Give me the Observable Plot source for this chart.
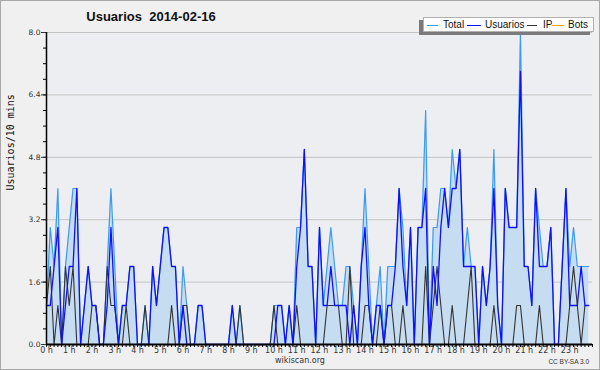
<!DOCTYPE html>
<html>
<head>
<meta charset="utf-8">
<script src="https://cdn.jsdelivr.net/npm/d3@7"></script>
<script src="https://cdn.jsdelivr.net/npm/@observablehq/plot@0.6"></script>
<style>
html,body{margin:0;padding:0;background:#f0f0f0;}
#wrap{position:relative;width:600px;height:370px;background:#f0f0f0;overflow:hidden;}
#wrap svg{position:absolute;left:0;top:0;}
#border{position:absolute;left:0;top:0;width:600px;height:370px;box-sizing:border-box;border:1px solid #a8a8a8;pointer-events:none;}
#title{position:absolute;left:51px;top:10px;width:200px;text-align:center;font:bold 13px "Liberation Sans",Arial,sans-serif;line-height:13px;white-space:pre;color:#111;}
#legend{position:absolute;left:423px;top:17px;width:169px;height:13px;background:#fff;border:1px solid #b0b0b0;box-shadow:-4px 3px 0 #7a7a7a;}
.lg{position:absolute;top:2px;font:10px "Liberation Sans",Arial,sans-serif;line-height:10px;color:#111;white-space:nowrap;}
.ll{position:absolute;top:7px;height:1px;}
#foot{position:absolute;left:200px;top:356px;width:200px;text-align:center;font:8px "DejaVu Sans",sans-serif;line-height:9px;color:#333;}
#cc{position:absolute;right:11px;top:358px;font:6.5px "Liberation Sans",Arial,sans-serif;line-height:7px;color:#333;}
</style>
</head>
<body>
<div id="wrap"></div>
<script>
// ---- data (10-minute slots, 2014-02-16) ----
const total = [
  1,3,2,4,0,2,3,4,4,0,
  1,2,1,1,0,0,2,4,2,0,
  1,1,2,2,0,0,1,0,2,1,
  2,3,3,2,2,0,2,1,0,0,
  1,1,0,0,0,0,0,0,0,1,
  0,1,0,0,0,0,0,0,0,0,
  1,1,1,0,1,0,3,3,5,2,
  2,0,3,1,2,3,2,1,1,2,
  2,1,0,2,4,2,0,1,2,0,
  2,2,2,4,3,1,3,0,3,3,
  6,0,3,3,4,4,3,5,4,5,
  2,3,2,2,0,2,1,2,5,1,
  0,4,3,3,3,8,2,2,1,4,
  3,2,2,3,0,0,2,4,2,3,
  2,2,2,2
];
const usuarios = [
  1,1,2,3,0,1,2,2,4,0,
  1,2,1,1,0,0,1,3,1,0,
  1,1,2,2,0,0,0,0,2,1,
  2,3,3,2,2,0,1,0,0,0,
  1,1,0,0,0,0,0,0,0,1,
  0,0,0,0,0,0,0,0,0,0,
  0,1,1,0,1,0,2,3,5,2,
  2,0,3,1,1,2,1,1,1,1,
  0,1,0,2,3,1,0,1,1,0,
  1,1,2,4,2,1,3,0,3,3,
  4,0,2,1,3,4,3,4,4,5,
  2,2,2,2,0,2,1,2,4,1,
  0,4,3,3,3,7,2,2,1,4,
  2,2,2,3,0,0,2,4,1,1,
  1,2,1,1
];
const ip = [
  1,2,0,1,0,2,1,2,0,0,
  0,0,1,1,0,0,2,1,1,0,
  0,1,0,0,0,0,1,0,0,0,
  0,0,0,1,0,0,1,1,0,0,
  0,0,0,0,0,0,0,0,0,0,
  0,1,0,0,0,0,0,0,0,0,
  1,0,0,0,0,0,1,0,0,0,
  0,0,0,0,1,1,1,1,0,0,
  2,0,0,0,1,1,0,0,1,0,
  1,1,0,0,1,0,0,0,0,0,
  2,0,1,2,1,0,0,1,0,0,
  0,1,2,0,0,0,0,0,1,0,
  0,0,0,0,1,1,0,0,0,0,
  1,0,0,0,0,0,0,0,1,2,
  1,0,1,1
];
const bots = [
  0,0,0,0,0,0,0,0,0,0, 0,0,0,0,0,0,0,0,0,0,
  0,0,0,0,0,0,0,0,0,0, 0,0,0,0,0,0,0,0,0,0,
  0,0,0,0,0,0,0,0,0,0, 0,0,0,0,0,0,0,0,0,0,
  0,0,0,0,0,0,0,0,0,0, 0,0,0,0,0,0,0,0,0,0,
  0,0,0,0,0,0,0,0,0,0, 0,0,0,0,0,0,0,0,0,0,
  0,0,0,0,0,0,0,0,0,0, 0,0,0,0,0,0,0,0,0,0,
  0,0,0,0,0,0,0,0,0,0, 0,0,0,0,0,0,0,0,0,0,
  0,0,0,0
];
const hourTicks = [0,1,2,3,4,5,6,7,8,9,10,11,12,13,14,15,16,17,18,19,20,21,22,23];
const hourLabels = ["0 h","1 h","2 h","3 h","4 h","5 h","6 h","7 h","8 h","9 h","10 h","11 h",
  "12 h","13 h","14 h","15 h","16 h","17 h","18 h","19 h","20 h","21 h","22 h","23 h"];
const yTicks = [0, 1.6, 3.2, 4.8, 6.4, 8.0];
const yTickLabels = ["0.0","1.6","3.2","4.8","6.4","8.0"];
const seriesNames = ["Total","Usuarios","IP","Bots"];
const seriesColors = ["#3b9bf0","#0f0fff","#333333","#ffa500"];
const titleText = "Usuarios  2014-02-16";
const yLabelText = "Usuarios/10 mins";

// ---- build ----
const rows = total.map((v, i) => ({t: i / 6, total: v, usuarios: usuarios[i], ip: ip[i], bots: bots[i]}));
const yMinor = d3.range(0, 8.0001, 0.4);
const xMinor = d3.range(0, 24.0001, 1 / 6);

const chart = Plot.plot({
  width: 600, height: 370,
  marginLeft: 46, marginRight: 8, marginTop: 32, marginBottom: 26,
  style: {background: "transparent", fontFamily: "DejaVu Sans, sans-serif", fontSize: "8px", overflow: "visible"},
  x: {domain: [0, 24], axis: null},
  y: {domain: [0, 8], axis: null},
  marks: [
    Plot.frame({fill: "#eceef1", stroke: "none"}),
    Plot.gridY(yTicks, {stroke: "#c4c4c4", strokeOpacity: 1}),
    Plot.areaY(rows, {x: "t", y: "total", fill: "#c6dcf0"}),
    Plot.lineY(rows, {x: "t", y: "total", stroke: seriesColors[0], strokeWidth: 1.2}),
    Plot.lineY(rows, {x: "t", y: "ip", stroke: seriesColors[2], strokeWidth: 1.1}),
    Plot.lineY(rows, {x: "t", y: "usuarios", stroke: seriesColors[1], strokeWidth: 1.3}),
    Plot.lineY(rows, {x: "t", y: "bots", stroke: seriesColors[3], strokeWidth: 1}),
    Plot.axisY(yMinor, {tickSize: 3, tickFormat: () => "", color: "#000", label: null}),
    Plot.axisY(yTicks, {tickSize: 5, tickPadding: 1, tickFormat: d => yTickLabels[yTicks.indexOf(d)], color: "#333", fontSize: 7.5, label: null}),
    Plot.axisX(xMinor, {tickSize: 3, tickFormat: () => "", color: "#000", label: null}),
    Plot.axisX(hourTicks, {tickSize: 3, tickPadding: 0, tickFormat: d => hourLabels[d], color: "#333", fontSize: 8, label: null}),
    Plot.ruleX([0], {stroke: "#000", strokeWidth: 1.5}),
    Plot.ruleY([0], {stroke: "#000", strokeWidth: 2}),
    Plot.text([yLabelText], {frameAnchor: "left", dx: -36, dy: 2, rotate: -90, fontFamily: "DejaVu Sans Mono", fontSize: 10, fill: "#111"})
  ]
});

const wrap = document.getElementById("wrap");
wrap.appendChild(chart);

const title = document.createElement("div");
title.id = "title";
title.textContent = titleText;
wrap.appendChild(title);

// legend
const legend = document.createElement("div");
legend.id = "legend";
const lineX = [3, 43, 103, 128];
const lineW = [11, 14, 10, 12];
const textX = [19, 61, 119, 144];
seriesNames.forEach((name, k) => {
  const ln = document.createElement("div");
  ln.className = "ll";
  ln.style.left = lineX[k] + "px";
  ln.style.width = lineW[k] + "px";
  ln.style.background = seriesColors[k];
  legend.appendChild(ln);
  const tx = document.createElement("div");
  tx.className = "lg";
  tx.style.left = textX[k] + "px";
  tx.textContent = name;
  legend.appendChild(tx);
});
wrap.appendChild(legend);

const foot = document.createElement("div");
foot.id = "foot";
foot.textContent = "wikiscan.org";
wrap.appendChild(foot);
const cc = document.createElement("div");
cc.id = "cc";
cc.textContent = "CC BY-SA 3.0";
wrap.appendChild(cc);

const border = document.createElement("div");
border.id = "border";
wrap.appendChild(border);
</script>
</body>
</html>
